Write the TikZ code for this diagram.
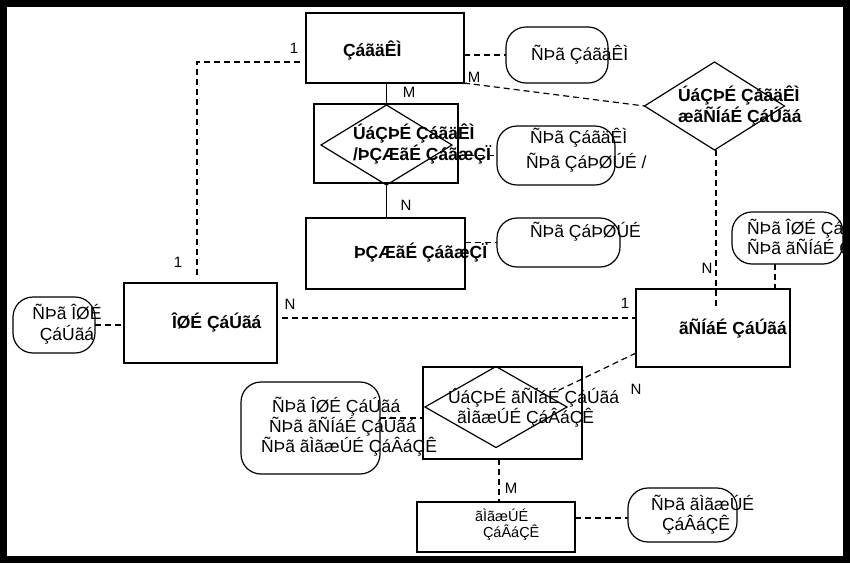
\documentclass[tikz,border=0pt]{standalone}
\usepackage{fontspec}
\setmainfont{Liberation Sans}
\usetikzlibrary{shapes.geometric,calc}
\begin{document}
\begin{tikzpicture}[x=1pt,y=-1pt,
  every node/.style={inner sep=0pt,outer sep=0pt},
  ent/.style={draw,line width=1.2pt,rectangle},
  attr/.style={draw,line width=1.2pt,rectangle,rounded corners=20pt},
  dia/.style={draw,line width=1.2pt,diamond},
  conn/.style={line width=1.2pt,dash pattern=on 6pt off 4pt},
  solidconn/.style={line width=1.2pt},
  lbl/.style={font=\fontsize{15}{18}\selectfont},
  bt/.style={font=\fontsize{17.5}{19}\selectfont\bfseries},
  nt/.style={font=\fontsize{17.5}{20}\selectfont},
]
\useasboundingbox (0,0) rectangle (850,563);
\begin{scope}
\clip (7,7) rectangle (843,556);
% shapes
\node[ent,minimum width=158pt,minimum height=70pt] (prod) at (385,48) {};
\node[attr,minimum width=102pt,minimum height=56pt] (prodAttr) at (557,55) {};
\node[ent,minimum width=144pt,minimum height=79pt] (rel1box) at (386,143.5) {};
\node[dia,minimum width=131pt,minimum height=80pt] (rel1dia) at (386.5,145) {};
\node[attr,minimum width=118pt,minimum height=59pt] (rel1Attr) at (556,155.5) {};
\node[ent,minimum width=159pt,minimum height=71pt] (bom) at (385.5,253.5) {};
\node[attr,minimum width=123pt,minimum height=49pt] (bomAttr) at (558.5,242.5) {};
\node[dia,minimum width=140pt,minimum height=88pt] (rel2dia) at (714.5,106) {};
\node[ent,minimum width=153pt,minimum height=80pt] (plan) at (200.5,323) {};
\node[attr,minimum width=82pt,minimum height=56pt] (planAttr) at (54,325) {};
\node[ent,minimum width=154pt,minimum height=78pt] (stage) at (713,328) {};
\node[attr,minimum width=111pt,minimum height=52pt] (stageAttr) at (787.5,238) {};
\node[ent,minimum width=159pt,minimum height=92pt] (rel3box) at (502.5,413) {};
\node[dia,minimum width=142pt,minimum height=81pt] (rel3dia) at (496,407) {};
\node[attr,minimum width=139pt,minimum height=92pt] (rel3Attr) at (310.5,428) {};
\node[ent,minimum width=158pt,minimum height=50pt] (mach) at (496,527) {};
\node[attr,minimum width=109pt,minimum height=54pt] (machAttr) at (682.5,515) {};
% connectors
\draw[conn] (prod.east |- prodAttr.west) -- (prodAttr.west);
\draw[conn] (prod.south east) -- (rel2dia.west);
\coordinate (stageIn) at (716,310);
\draw[conn] (rel2dia.south -| stageIn) -- (stageIn);
\draw[solidconn] (prod.south -| rel1dia.north) -- (rel1dia.north);
\draw[solidconn] (rel1dia.south) -- (rel1dia.south |- bom.north);
\draw[conn] (rel1box.east |- rel1Attr.west) -- (rel1Attr.west);
\draw[conn] (bom.east |- bomAttr.west) -- (bomAttr.west);
\coordinate (h1) at ($(prod.west)+(-6,14)$);
\coordinate (h2) at ($(plan.north)+(-3.5,-8)$);
\draw[conn] (h1) -| (h2);
\draw[conn] (planAttr.east) -- (planAttr.east -| plan.west);
\coordinate (j1) at ($(plan.east)+(5,-5)$);
\draw[conn] (j1) -- (j1 -| stage.west);
\coordinate (k1) at ($(stage.south west)+(0,-14)$);
\coordinate (s3end) at (555,392);
\draw[conn] (k1) -- (s3end);
\coordinate (l1) at ($(stageAttr.south)+(-12.5,0)$);
\draw[conn] (l1) -- (l1 |- stage.north);
\coordinate (m1) at ($(rel3Attr.east)+(0,-10)$);
\draw[conn] (m1) -- (m1 -| rel3box.west);
\coordinate (n1) at ($(rel3box.south)+(-3.5,0)$);
\draw[conn] (n1) -- (n1 |- mach.north);
\coordinate (o1) at ($(mach.east)+(0,-9)$);
\draw[conn] (o1) -- (o1 -| machAttr.west);
% texts
\node[bt,anchor=west] (tprod) at (343,50) {ÇáãäÊÌ};
\node[nt,anchor=west] (tprodA) at (531,55) {ÑÞã ÇáãäÊÌ};
\node[bt,anchor=west,align=left,font=\fontsize{17.5}{18}\selectfont\bfseries] (trel2) at (678,106) {ÚáÇÞÉ ÇáãäÊÌ\\æãÑÍáÉ ÇáÚãá};
\node[bt,anchor=west,align=left] (trel1) at (353,144) {ÚáÇÞÉ ÇáãäÊÌ\\/ÞÇÆãÉ ÇáãæÇÏ};
\node[anchor=west,align=left,font=\fontsize{17.5}{25}\selectfont] (trel1A) at (526,150.5) {\hspace*{4pt}ÑÞã ÇáãäÊÌ\\ÑÞã ÇáÞØÚÉ /};
\node[bt,anchor=west] (tbom) at (354,253) {ÞÇÆãÉ ÇáãæÇÏ};
\node[nt,anchor=west] (tbomA) at (530,232) {ÑÞã ÇáÞØÚÉ};
\node[bt,anchor=west] (tplan) at (172,322) {ÎØÉ ÇáÚãá};
\node[align=center,font=\fontsize{17.5}{21}\selectfont] (tplanA) at (67,324.5) {ÑÞã ÎØÉ\\ÇáÚãá};
\node[bt,anchor=west] (tstage) at (679,329) {ãÑÍáÉ ÇáÚãá};
\node[anchor=west,align=left,font=\fontsize{17.5}{18}\selectfont] (tstageA) at (747,239) {ÑÞã ÎØÉ ÇáÚãá\\ÑÞã ãÑÍáÉ ÇáÚãá};
\node[nt,anchor=west,align=left] (trel3) at (448,408) {ÚáÇÞÉ ãÑÍáÉ ÇáÚãá\\\hspace*{9pt}ãÌãæÚÉ ÇáÂáÇÊ};
\node[nt,anchor=west,align=left] (trel3A) at (261,427) {\hspace*{11pt}ÑÞã ÎØÉ ÇáÚãá\\\hspace*{8pt}ÑÞã ãÑÍáÉ ÇáÚãá\\ÑÞã ãÌãæÚÉ ÇáÂáÇÊ};
\node[anchor=west,align=left,font=\fontsize{14.5}{16}\selectfont] (tmach) at (475,525) {ãÌãæÚÉ\\\hspace*{8pt}ÇáÂáÇÊ};
\node[nt,anchor=west,align=left] (tmachA) at (651,515) {ÑÞã ãÌãæÚÉ\\\hspace*{11pt}ÇáÂáÇÊ};
% cardinality labels
\node[lbl] (c1) at (294,48) {1};
\node[lbl] (c2) at (178,262) {1};
\node[lbl] (c3) at (409,92) {M};
\node[lbl] (c4) at (406,205) {N};
\node[lbl] (c5) at (474,77) {M};
\node[lbl] (c6) at (707,268) {N};
\node[lbl] (c7) at (290,304) {N};
\node[lbl] (c8) at (625,303) {1};
\node[lbl] (c9) at (636,389) {N};
\node[lbl] (c10) at (511,488) {M};
\end{scope}
\draw[line width=7pt] (3.5,3.5) rectangle (846.5,559.5);
\end{tikzpicture}
\end{document}
